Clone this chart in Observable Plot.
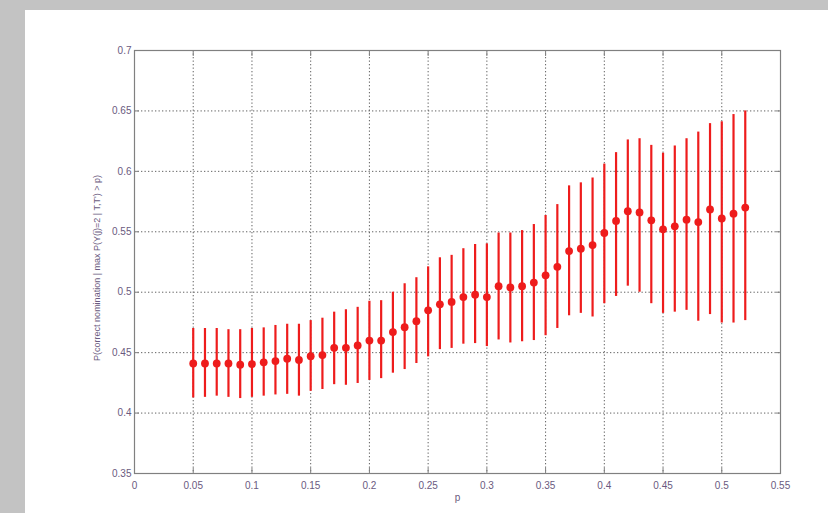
<!DOCTYPE html>
<html>
<head>
<meta charset="utf-8">
<script src="https://cdn.jsdelivr.net/npm/d3@7"></script>
<script src="https://cdn.jsdelivr.net/npm/@observablehq/plot@0.6"></script>
<style>
  html, body { margin: 0; padding: 0; background: #c3c3c3; width: 828px; height: 513px; overflow: hidden; }
  #panel { position: absolute; left: 25px; top: 10px; width: 803px; height: 503px; background: #fff; }
</style>
</head>
<body>
<div id="panel"></div>
<script>
const pValues = [0.05,0.06,0.07,0.08,0.09,0.10,0.11,0.12,0.13,0.14,0.15,0.16,0.17,0.18,0.19,0.20,0.21,0.22,0.23,0.24,0.25,0.26,0.27,0.28,0.29,0.30,0.31,0.32,0.33,0.34,0.35,0.36,0.37,0.38,0.39,0.40,0.41,0.42,0.43,0.44,0.45,0.46,0.47,0.48,0.49,0.50,0.51,0.52];
const meanValues = [0.441,0.441,0.441,0.441,0.440,0.4405,0.442,0.443,0.445,0.444,0.447,0.448,0.454,0.454,0.456,0.460,0.460,0.467,0.471,0.476,0.485,0.490,0.492,0.496,0.498,0.496,0.505,0.504,0.505,0.508,0.514,0.521,0.534,0.536,0.539,0.549,0.559,0.567,0.566,0.5595,0.552,0.5545,0.560,0.558,0.5685,0.561,0.565,0.570];
const upperValues = [0.470,0.470,0.470,0.469,0.469,0.470,0.4705,0.4725,0.4735,0.4735,0.4765,0.4785,0.4835,0.4855,0.4875,0.4925,0.493,0.500,0.507,0.512,0.521,0.5285,0.5305,0.536,0.5395,0.540,0.549,0.549,0.551,0.556,0.5635,0.5725,0.588,0.5905,0.5945,0.606,0.6155,0.626,0.627,0.6215,0.615,0.621,0.627,0.6325,0.6395,0.641,0.647,0.650];
const lowerValues = [0.4125,0.413,0.414,0.413,0.412,0.413,0.414,0.415,0.4155,0.414,0.418,0.4195,0.4235,0.423,0.4245,0.427,0.4285,0.433,0.436,0.441,0.4465,0.4525,0.4535,0.457,0.4575,0.455,0.4605,0.458,0.459,0.460,0.464,0.470,0.4805,0.4825,0.4795,0.4905,0.4965,0.505,0.500,0.4905,0.4825,0.4835,0.485,0.476,0.4815,0.4745,0.4745,0.4765];
const xTicks = [0,0.05,0.1,0.15,0.2,0.25,0.3,0.35,0.4,0.45,0.5,0.55];
const xTickLabels = ["0","0.05","0.1","0.15","0.2","0.25","0.3","0.35","0.4","0.45","0.5","0.55"];
const yTicks = [0.35,0.4,0.45,0.5,0.55,0.6,0.65,0.7];
const yTickLabels = ["0.35","0.4","0.45","0.5","0.55","0.6","0.65","0.7"];
const xLabel = "p";
const yLabel = "P(correct nomination | max P(Y(j)=2 | T,T') > p)";

const rows = pValues.map((p, i) => ({p, mean: meanValues[i], lo: lowerValues[i], hi: upperValues[i]}));
const labelColor = "#6a5a80";
const axisColor = "#808080";
const gridColor = "#444";

const chart = Plot.plot({
  width: 803,
  height: 503,
  marginLeft: 109,
  marginRight: 48,
  marginTop: 40,
  marginBottom: 40,
  style: {fontFamily: "'Liberation Sans', Arial, sans-serif", fontSize: "10px", background: "#fff"},
  x: {domain: [0, 0.55]},
  y: {domain: [0.35, 0.7]},
  marks: [
    Plot.gridX(xTicks, {stroke: gridColor, strokeOpacity: 0.85, strokeDasharray: "1.3,2.2", strokeWidth: 1}),
    Plot.gridY(yTicks, {stroke: gridColor, strokeOpacity: 0.85, strokeDasharray: "1.3,2.2", strokeWidth: 1}),
    Plot.axisX(xTicks, {anchor: "bottom", tickSize: 0, tickPadding: 8, tickFormat: (d, i) => xTickLabels[i], fill: labelColor, label: null}),
    Plot.axisY(yTicks, {anchor: "left", tickSize: 0, tickPadding: 3, tickFormat: (d, i) => yTickLabels[i], fill: labelColor, label: null}),
    Plot.axisX(xTicks, {anchor: "bottom", tickSize: 5, dy: -5, text: null, stroke: axisColor, label: null}),
    Plot.axisX(xTicks, {anchor: "top", tickSize: 5, dy: 5, text: null, stroke: axisColor, label: null}),
    Plot.axisY(yTicks, {anchor: "left", tickSize: 5, dx: 5, text: null, stroke: axisColor, label: null}),
    Plot.axisY(yTicks, {anchor: "right", tickSize: 5, dx: -5, text: null, stroke: axisColor, label: null}),
    Plot.frame({stroke: axisColor, strokeWidth: 1.2}),
    Plot.ruleX(rows, {x: "p", y1: "lo", y2: "hi", stroke: "#ee1c1c", strokeWidth: 2.2}),
    Plot.dot(rows, {x: "p", y: "mean", r: 3.9, fill: "#ee1c1c", stroke: "none"}),
    Plot.text([xLabel], {frameAnchor: "bottom", dy: 27, fill: labelColor, fontSize: 10}),
    Plot.text([yLabel], {frameAnchor: "left", textAnchor: "middle", dx: -37, dy: 6, rotate: -90, fill: labelColor, fontSize: 9})
  ]
});
document.getElementById("panel").appendChild(chart);
</script>
</body>
</html>
